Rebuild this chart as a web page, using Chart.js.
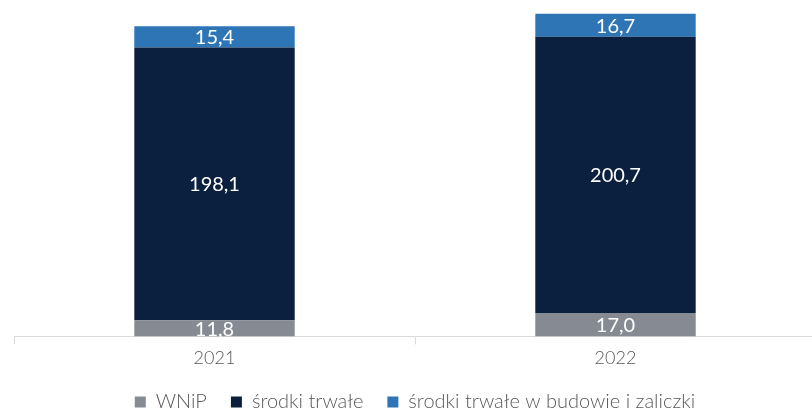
<html>
    <head>
        <style>
            html, body { margin: 0; padding: 0; background: #fff; overflow: hidden; }
            #wrap { width: 816px; height: 422px; }
        </style>
    </head>
    <body>
        <div id='wrap'>
            <canvas id="chart"></canvas>
        </div>
        <script src="https://cdn.jsdelivr.net/npm/chart.js@4"></script>
        <script>
            // Chart data
            var years = ['2021', '2022'];
            var wnip = [11.8, 17.0];
            var srodkiTrwale = [198.1, 200.7];
            var wBudowie = [15.4, 16.7];

            var FONT = 'Lato, "Open Sans", sans-serif';

            // Draws the white value labels in the middle of each segment
            var valueLabels = {
                id: 'valueLabels',
                afterDatasetsDraw: function(chart) {
                    var ctx = chart.ctx;
                    ctx.save();
                    ctx.fillStyle = '#ffffff';
                    ctx.font = '20px ' + FONT;
                    ctx.textAlign = 'center';
                    ctx.textBaseline = 'middle';
                    chart.data.datasets.forEach(function(ds, i) {
                        chart.getDatasetMeta(i).data.forEach(function(bar, j) {
                            var txt = ds.data[j].toFixed(1).replace('.', ',');
                            ctx.fillText(txt, bar.x, (bar.y + bar.base) / 2 + 1);
                        });
                    });
                    ctx.restore();
                }
            };

            var ctx = document.getElementById('chart').getContext('2d');
            var chart = new Chart(ctx, {
                type: 'bar',
                data: {
                    labels: years,
                    datasets: [
                        { label: 'WNiP', data: wnip, backgroundColor: '#858a93' },
                        { label: 'środki trwałe', data: srodkiTrwale, backgroundColor: '#0b1f3e' },
                        { label: 'środki trwałe w budowie i zaliczki', data: wBudowie, backgroundColor: '#2e75b6' }
                    ]
                },
                options: {
                    responsive: true,
                    maintainAspectRatio: false,
                    animation: false,
                    layout: { padding: { top: 6, left: 14, right: 0, bottom: 0 } },
                    datasets: {
                        bar: { categoryPercentage: 1, barPercentage: 0.4, borderWidth: 0 }
                    },
                    scales: {
                        x: {
                            stacked: true,
                            grid: {
                                offset: true,
                                drawOnChartArea: false,
                                drawTicks: true,
                                tickLength: 8,
                                color: '#d9d9d9'
                            },
                            border: { color: '#d9d9d9', width: 1 },
                            ticks: {
                                color: '#595959',
                                font: { family: FONT, size: 18, weight: '300' },
                                padding: 3
                            },
                            // pull the legend closer to the year labels
                            afterFit: function(scale) { scale.height -= 4; }
                        },
                        y: {
                            stacked: true,
                            display: false,
                            min: 0,
                            max: 240
                        }
                    },
                    plugins: {
                        legend: {
                            position: 'bottom',
                            labels: {
                                boxWidth: 11,
                                boxHeight: 11,
                                padding: 24,
                                color: '#595959',
                                font: { family: FONT, size: 20, weight: '300' }
                            }
                        },
                        tooltip: { enabled: false }
                    }
                },
                plugins: [valueLabels]
            });
        </script>
    </body>
</html>
